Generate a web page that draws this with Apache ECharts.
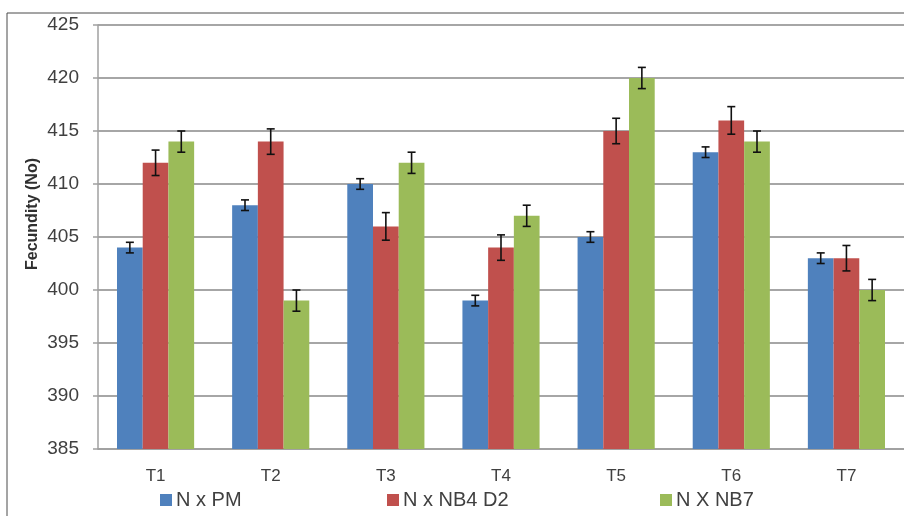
<!DOCTYPE html>
<html>
<head>
<meta charset="utf-8">
<script src="https://cdn.jsdelivr.net/npm/echarts@6/dist/echarts.min.js"></script>
<style>
html,body{margin:0;padding:0;background:#fff;}
#c{width:904px;height:516px;}
</style>
</head>
<body>
<div id="c"></div>
<script>
var categories = ['T1','T2','T3','T4','T5','T6','T7'];
var seriesNames = ['N x PM','N x NB4 D2','N X NB7'];
var valPM  = [404, 408, 410, 399, 405, 413, 403];
var valNB4 = [412, 414, 406, 404, 415, 416, 403];
var valNB7 = [414, 399, 412, 407, 420, 414, 400];
var errPM  = [0.5, 0.5, 0.5, 0.5, 0.5, 0.5, 0.5];
var errNB4 = [1.2, 1.2, 1.3, 1.2, 1.2, 1.3, 1.2];
var errNB7 = [1.0, 1.0, 1.0, 1.0, 1.0, 1.0, 1.0];
var yTicks = [385, 390, 395, 400, 405, 410, 415, 420, 425];

var colors = ['#4F81BD', '#C0504D', '#9BBB59'];
var values = [valPM, valNB4, valNB7];
var errors = [errPM, errNB4, errNB7];
var catGap = 0.33;

var chart = echarts.init(document.getElementById('c'));
var series = [];
values.forEach(function (v, si) {
  series.push({
    name: seriesNames[si],
    type: 'bar',
    data: v,
    barGap: '0%',
    barCategoryGap: (catGap * 100) + '%',
    itemStyle: { color: colors[si] },
    emphasis: { disabled: true }
  });
});
values.forEach(function (v, si) {
  var errData = v.map(function (val, i) { return [i, val - errors[si][i], val + errors[si][i]]; });
  series.push({
    type: 'custom',
    z: 10,
    silent: true,
    data: errData,
    renderItem: function (params, api) {
      var idx = api.value(0);
      var lo = api.coord([idx, api.value(1)]);
      var hi = api.coord([idx, api.value(2)]);
      var band = api.size([1, 0])[0];
      var bw = band * (1 - catGap) / 3;
      var x = lo[0] + (si - 1) * bw;
      var cap = 4;
      var st = { stroke: '#111', lineWidth: 1.6 };
      return {
        type: 'group',
        children: [
          { type: 'line', shape: { x1: x, y1: lo[1], x2: x, y2: hi[1] }, style: st },
          { type: 'line', shape: { x1: x - cap, y1: lo[1], x2: x + cap, y2: lo[1] }, style: st },
          { type: 'line', shape: { x1: x - cap, y1: hi[1], x2: x + cap, y2: hi[1] }, style: st }
        ]
      };
    }
  });
});

var legendPos = [155, 382, 655];
var legends = seriesNames.map(function (n, i) {
  return {
    data: [n],
    left: legendPos[i],
    top: 485,
    icon: 'rect',
    itemWidth: 12,
    itemHeight: 12,
    itemGap: 0,
    selectedMode: false,
    textStyle: { fontFamily: 'Liberation Sans', fontSize: 20, color: '#404040', padding: [0, 0, 0, -1] }
  };
});

chart.setOption({
  animation: false,
  backgroundColor: '#fff',
  color: colors,
  graphic: [{
    type: 'rect',
    shape: { x: 7, y: 13, width: 1000, height: 1000 },
    style: { fill: 'none', stroke: '#4a4a4a', lineWidth: 1 },
    silent: true
  }],
  legend: legends,
  grid: { left: 98, top: 25, bottom: 67, right: -11, containLabel: false },
  xAxis: {
    type: 'category',
    data: categories,
    axisLine: { show: true, lineStyle: { color: '#a0a0a0', width: 1.5 } },
    axisTick: { show: false },
    axisLabel: { color: '#404040', fontFamily: 'Liberation Sans', fontSize: 17, margin: 19 },
    splitLine: { show: false }
  },
  yAxis: {
    type: 'value',
    min: yTicks[0],
    max: yTicks[yTicks.length - 1],
    interval: 5,
    name: 'Fecundity (No)',
    nameLocation: 'middle',
    nameGap: 57,
    nameMoveOverlap: false,
    nameTextStyle: { fontFamily: 'Liberation Sans', fontWeight: 'bold', fontSize: 16, color: '#303030', padding: [0, 0, 0, 46] },
    axisLine: { show: true, lineStyle: { color: '#a0a0a0', width: 1.5 } },
    axisTick: { show: true, length: 5, lineStyle: { color: '#a0a0a0', width: 1.5 } },
    axisLabel: { color: '#404040', fontFamily: 'Liberation Sans', fontSize: 19, margin: 19 },
    splitLine: { show: true, lineStyle: { color: '#a6a6a6', width: 1.8 } }
  },
  series: series
});
</script>
</body>
</html>
